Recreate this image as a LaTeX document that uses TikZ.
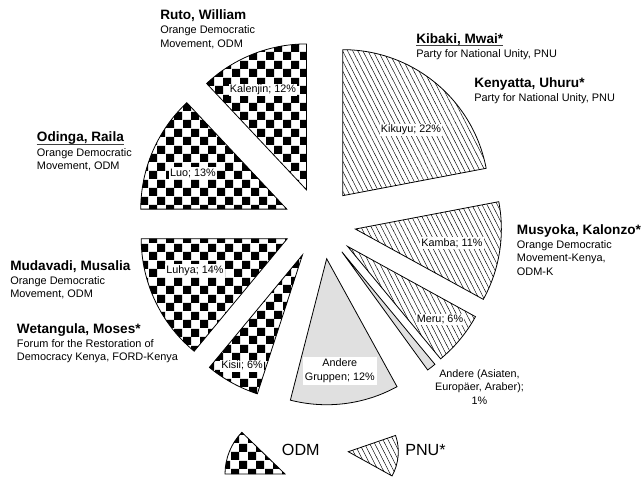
\documentclass[tikz,border=0pt]{standalone}
\usepackage{fontspec}
\setmainfont{Liberation Sans}
\usetikzlibrary{patterns.meta,calc}

\tikzdeclarepattern{
	name=odmcheck,
	type=uncolored,
	bounding box={(0pt,0pt) and (12.4pt,12.4pt)},
	tile size={(12.4pt,12.4pt)},
	code={
		\fill (0pt,0pt) rectangle (6.2pt,6.2pt);
		\fill (6.2pt,6.2pt) rectangle (12.4pt,12.4pt);
	}
}

\tikzset{
	odm/.style={draw=black, line width=0.6pt, pattern=odmcheck},
	pnu/.style={draw=black, line width=0.6pt, pattern={Lines[angle=-63,distance=3.4pt,line width=0.35pt]}},
	other/.style={draw=black, line width=0.6pt, fill=black!12},
	lbl/.style={fill=white, inner sep=1pt, align=center, font=\fontsize{8.1}{10}\selectfont},
	who/.style={anchor=base west, inner sep=0pt, font=\fontsize{10.2}{12}\selectfont\bfseries},
	party/.style={anchor=north west, inner sep=0pt, align=left, font=\fontsize{8.2}{10.1}\selectfont},
	key/.style={anchor=base west, inner sep=0pt, font=\fontsize{12.1}{14}\selectfont}
}

\begin{document}
\begin{tikzpicture}[x=0.75pt,y=0.75pt]
	\useasboundingbox (0,0) rectangle (641,-477);
	\coordinate (ctr) at (319.8,-223.4);
	% exploded slices: name/start/end/style/shift direction
	\foreach \nm/\a/\b/\s/\e in {kikuyu/10.8/90/pnu/50.4, kalenjin/90/133.2/odm/111.6,
		luo/133.2/180/odm/156.6, luhya/180/230.4/odm/205.2, kisii/230.4/252/odm/241.2,
		gruppen/255.6/298.8/other/281, asiaten/306/309.6/other/307.8,
		meru/309.6/331.2/pnu/320.4, kamba/331.2/370.8/pnu/351}{
		\coordinate (\nm) at ($(ctr)+(\e:36)$);
		\draw[\s] (\nm) -- ++(\a:146) arc[start angle=\a, end angle=\b, radius=146] -- cycle;
	}
	
	% slice labels
	\node[lbl] (kikuyu-l) at (411,-130) {Kikuyu; 22\%};
	\node[lbl] (kalenjin-l) at (263,-90) {Kalenjin; 12\%};
	\node[lbl] (luo-l) at (193,-173) {Luo; 13\%};
	\node[lbl] (luhya-l) at (195,-270.7) {Luhya; 14\%};
	\node[lbl] (kisii-l) at (242,-365.7) {Kisii; 6\%};
	\node[lbl, inner sep=1.8pt] (gruppen-l) at (339.8,-370.8) {Andere\\Gruppen; 12\%};
	\node[lbl] (kamba-l) at (452,-243.3) {Kamba; 11\%};
	\node[lbl] (meru-l) at (440,-319.3) {Meru; 6\%};
	\node[lbl, fill=none, inner sep=0pt, anchor=north] (asiaten-l) at (479.5,-369.3)
		{Andere (Asiaten,\\Europäer, Araber);\\1\%};
	
	% candidates
	\node[who] (ruto) at (160,-19.3) {Ruto, William};
	\node[party] (ruto-p) at ([yshift=-4.6pt]ruto.base west) {Orange Democratic\\Movement, ODM};
	\node[who] (kibaki) at (416,-43.3) {Kibaki, Mwai*};
	\node[party] (kibaki-p) at ([yshift=-4.6pt]kibaki.base west) {Party for National Unity, PNU};
	\draw[black!75, line width=0.6pt] (kibaki.south west) -- (kibaki.south east);
	\node[who] (kenyatta) at (474,-87.3) {Kenyatta, Uhuru*};
	\node[party] (kenyatta-p) at ([yshift=-4.6pt]kenyatta.base west) {Party for National Unity, PNU};
	\node[who] (musyoka) at (516.7,-234.2) {Musyoka, Kalonzo*};
	\node[party] (musyoka-p) at ([yshift=-4.6pt]musyoka.base west) {Orange Democratic\\Movement-Kenya,\\ODM-K};
	\node[who] (odinga) at (36.7,-141.7) {Odinga, Raila};
	\node[party] (odinga-p) at ([yshift=-4.6pt]odinga.base west) {Orange Democratic\\Movement, ODM};
	\draw[black!75, line width=0.6pt] (odinga.south west) -- (odinga.south east);
	\node[who] (mudavadi) at (10,-270) {Mudavadi, Musalia};
	\node[party] (mudavadi-p) at ([yshift=-4.6pt]mudavadi.base west) {Orange Democratic\\Movement, ODM};
	\node[who] (wetangula) at (16.7,-333.2) {Wetangula, Moses*};
	\node[party] (wetangula-p) at ([yshift=-4.6pt]wetangula.base west) {Forum for the Restoration of\\Democracy Kenya, FORD-Kenya};
	
	% legend
	\coordinate (odm-key) at (285,-474);
	\draw[odm] (odm-key) -- ++(136:60) arc[start angle=136, end angle=180, radius=60] -- cycle;
	\node[key] (odm-t) at (281.7,-455.8) {ODM};
	\coordinate (pnu-key) at (348.3,-451.7);
	\draw[pnu] (pnu-key) -- ++(-29:50) arc[start angle=-29, end angle=19, radius=50] -- cycle;
	\node[key] (pnu-t) at (405,-455.8) {PNU*};
\end{tikzpicture}
\end{document}
